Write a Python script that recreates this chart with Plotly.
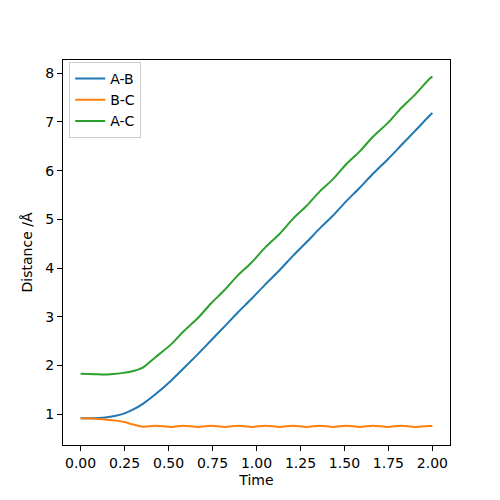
import plotly.graph_objects as go

# time samples (picked at the B-C turning points so the wave shape survives)
time = [0.0, 0.05, 0.10, 0.15, 0.20, 0.25, 0.30, 0.356, 0.422, 0.517,
        0.583, 0.668, 0.744, 0.82, 0.895, 0.972, 1.05, 1.132, 1.208, 1.284,
        1.36, 1.435, 1.511, 1.587, 1.662, 1.748, 1.824, 1.90, 1.985, 2.0]

dist_ab = [0.92, 0.92, 0.925, 0.94, 0.97, 1.02, 1.10, 1.22, 1.40, 1.70,
           1.935, 2.24, 2.525, 2.81, 3.095, 3.37, 3.665, 3.96, 4.255, 4.53,
           4.815, 5.08, 5.375, 5.65, 5.935, 6.24, 6.525, 6.81, 7.13, 7.18]

dist_bc = [0.92, 0.915, 0.905, 0.89, 0.87, 0.84, 0.79, 0.745, 0.765, 0.74,
           0.765, 0.74, 0.765, 0.74, 0.765, 0.74, 0.765, 0.74, 0.765, 0.74,
           0.765, 0.74, 0.765, 0.74, 0.765, 0.74, 0.765, 0.74, 0.762, 0.76]

dist_ac = [1.83, 1.825, 1.82, 1.815, 1.83, 1.855, 1.89, 1.965, 2.16, 2.445,
           2.695, 2.98, 3.285, 3.555, 3.855, 4.115, 4.425, 4.705, 5.015, 5.275,
           5.575, 5.825, 6.135, 6.395, 6.695, 6.985, 7.29, 7.555, 7.89, 7.93]

names = ['A-B', 'B-C', 'A-C']
colors = ['#1f77b4', '#ff7f0e', '#2ca02c']

fig = go.Figure()
for name, ys, c in zip(names, [dist_ab, dist_bc, dist_ac], colors):
    fig.add_trace(go.Scatter(x=time, y=ys, mode='lines', name=name,
                             line=dict(color=c, width=2, shape='spline', smoothing=0.8)))

axis_style = dict(
    showline=True,
    linecolor='black',
    linewidth=1,
    mirror=True,
    ticks='outside',
    ticklen=5,
    tickwidth=1,
    tickcolor='black',
    showgrid=False,
    zeroline=False,
    automargin=False,
    tickfont=dict(size=14, color='black'),
)

# page body adds an 8px offset, so the figure is 492 px and the margins are trimmed
fig.update_layout(
    width=492,
    height=492,
    autosize=False,
    margin=dict(l=55, r=50, t=52, b=55),
    plot_bgcolor='white',
    paper_bgcolor='white',
    font=dict(family='DejaVu Sans', size=14, color='black'),
    xaxis=dict(axis_style, range=[-0.1, 2.1], tickvals=[0, 0.25, 0.5, 0.75, 1.0, 1.25, 1.5, 1.75, 2.0],
               tickformat='.2f', title=dict(text='Time', standoff=5, font=dict(size=14))),
    yaxis=dict(axis_style, range=[0.37, 8.27], dtick=1, tick0=0,
               title=dict(text='Distance /Å', standoff=9, font=dict(size=14))),
    legend=dict(
        x=0.016, y=0.995, xanchor='left', yanchor='top',
        bgcolor='rgba(255,255,255,0.8)',
        bordercolor='#cccccc', borderwidth=1,
        font=dict(size=14),
        itemwidth=30,
        tracegroupgap=0,
    ),
    showlegend=True,
)

fig.write_html("out.html")
